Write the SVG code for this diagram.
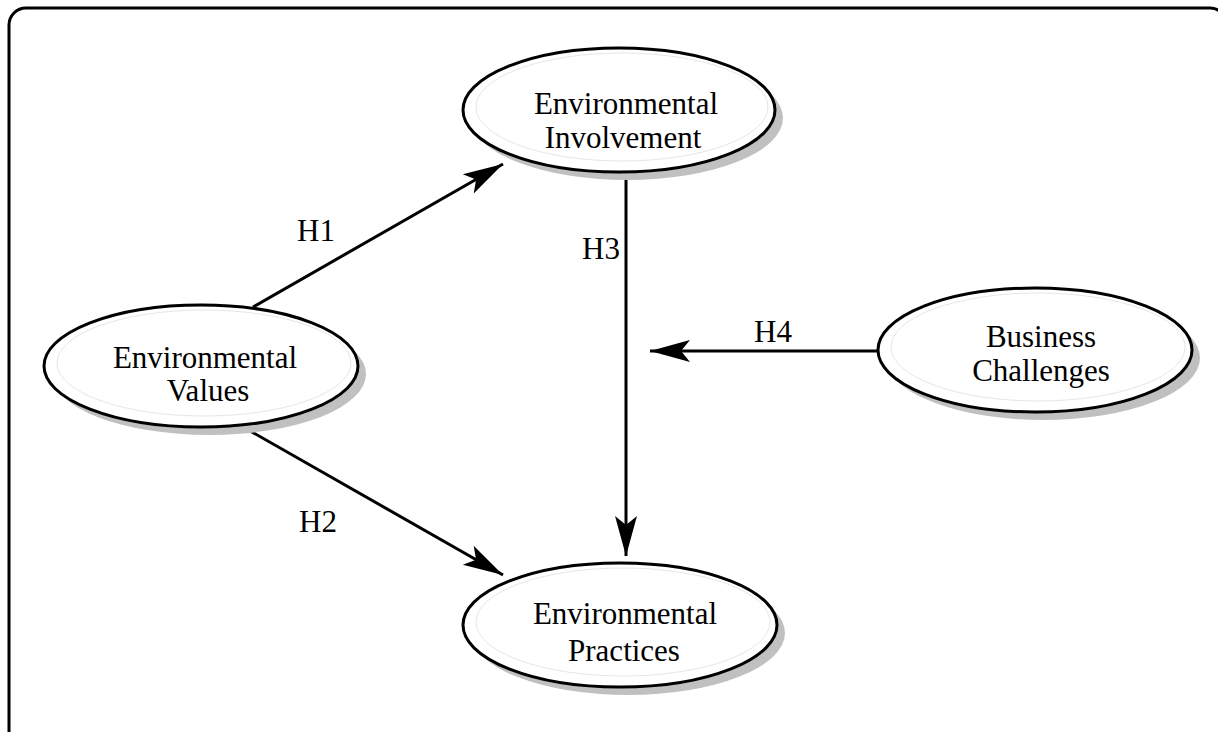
<svg xmlns="http://www.w3.org/2000/svg" width="1218" height="732" viewBox="0 0 1218 732">
  <style>
    .frame { fill: #ffffff; stroke: #000000; stroke-width: 3; }
    .shadow { fill: #c0c0c0; stroke: none; }
    .node { fill: #ffffff; stroke: #000000; stroke-width: 3; }
    .hl { fill: none; stroke: #e6e6e6; stroke-width: 1; }
    .lbl { font-family: "Liberation Serif", "Times New Roman", serif; font-size: 31px; fill: #000000; text-anchor: middle; }
    .edge { fill: none; stroke: #000000; stroke-width: 3; }
  </style>
  <defs>
    <marker id="arrow" markerUnits="userSpaceOnUse" viewBox="-42 -13 44 26" markerWidth="44" markerHeight="26" refX="0" refY="0" orient="auto">
      <path d="M0,0 L-40,-11 L-31,0 L-40,11 Z" fill="#000000"/>
    </marker>
  </defs>
  <rect class="frame" x="9" y="8" width="1218" height="740" rx="17" ry="17"/>

  <g id="connectors">
    <line class="edge" x1="253" y1="307" x2="503" y2="164" marker-end="url(#arrow)"/>
    <line class="edge" x1="245" y1="428" x2="503" y2="575" marker-end="url(#arrow)"/>
    <line class="edge" x1="626" y1="172" x2="626" y2="556" marker-end="url(#arrow)"/>
    <line class="edge" x1="878" y1="351" x2="650" y2="351" marker-end="url(#arrow)"/>
    <text class="lbl" x="316" y="241">H1</text>
    <text class="lbl" x="318" y="532">H2</text>
    <text class="lbl" x="601" y="259">H3</text>
    <text class="lbl" x="773" y="342">H4</text>
  </g>

  <g id="node-involvement">
    <ellipse class="shadow" cx="627" cy="118" rx="156" ry="62"/>
    <ellipse class="node" cx="619" cy="110" rx="156" ry="62"/>
    <ellipse class="hl" cx="622" cy="107" rx="146" ry="54"/>
    <text class="lbl" x="626" y="114">Environmental</text>
    <text class="lbl" x="623" y="148">Involvement</text>
  </g>

  <g id="node-values">
    <ellipse class="shadow" cx="209" cy="374" rx="157" ry="61"/>
    <ellipse class="node" cx="201" cy="366" rx="157" ry="61"/>
    <ellipse class="hl" cx="204" cy="363" rx="147" ry="53"/>
    <text class="lbl" x="205" y="368">Environmental</text>
    <text class="lbl" x="208" y="401">Values</text>
  </g>

  <g id="node-business">
    <ellipse class="shadow" cx="1043" cy="358" rx="157" ry="62"/>
    <ellipse class="node" cx="1035" cy="350" rx="157" ry="62"/>
    <ellipse class="hl" cx="1038" cy="347" rx="147" ry="54"/>
    <text class="lbl" x="1041" y="347">Business</text>
    <text class="lbl" x="1041" y="381">Challenges</text>
  </g>

  <g id="node-practices">
    <ellipse class="shadow" cx="628" cy="633" rx="157" ry="62"/>
    <ellipse class="node" cx="620" cy="625" rx="157" ry="62"/>
    <ellipse class="hl" cx="623" cy="622" rx="147" ry="54"/>
    <text class="lbl" x="625" y="624">Environmental</text>
    <text class="lbl" x="624" y="661">Practices</text>
  </g>
</svg>
